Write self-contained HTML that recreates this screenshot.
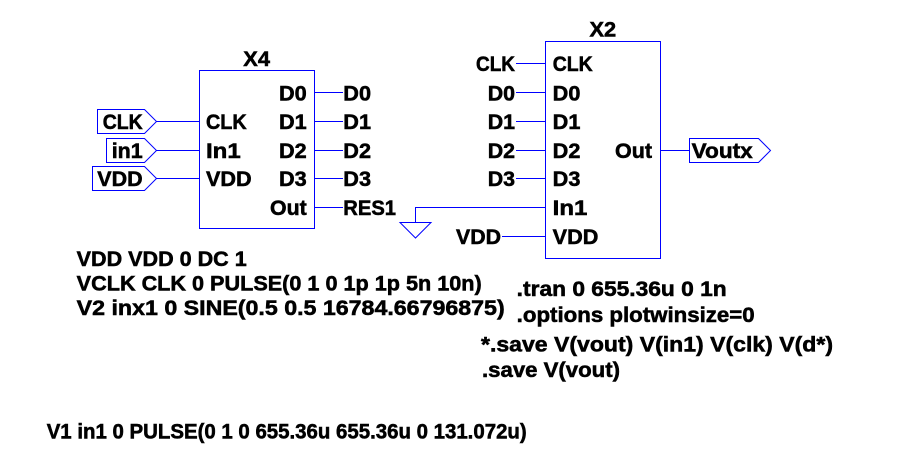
<!DOCTYPE html>
<html><head><meta charset="utf-8"><style>
html,body{margin:0;padding:0;background:#fff;}
svg{display:block;}
text{font-family:"Liberation Sans",Arial,sans-serif;font-weight:bold;font-size:21.5px;fill:#000;stroke:#000;stroke-width:0.55px;}
.w{stroke:#0000ff;stroke-width:1;fill:none;shape-rendering:crispEdges;}
.f{stroke:#0000ff;stroke-width:1;fill:none;}
</style></head><body>
<svg width="901" height="474" viewBox="0 0 901 474" xmlns="http://www.w3.org/2000/svg">
<rect x="0" y="0" width="901" height="474" fill="#fff"/>

<!-- X4 box -->
<rect class="w" x="199.5" y="70.5" width="115" height="158"/>
<line class="w" x1="156" y1="121.5" x2="200" y2="121.5"/>
<line class="w" x1="156" y1="150.5" x2="200" y2="150.5"/>
<line class="w" x1="156" y1="178.5" x2="200" y2="178.5"/>
<line class="w" x1="315" y1="92.5" x2="343" y2="92.5"/>
<line class="w" x1="315" y1="121.5" x2="343" y2="121.5"/>
<line class="w" x1="315" y1="150.5" x2="343" y2="150.5"/>
<line class="w" x1="315" y1="178.5" x2="343" y2="178.5"/>
<line class="w" x1="315" y1="207.5" x2="343" y2="207.5"/>

<!-- Flags -->
<polygon class="f" points="97.5,109.5 144.5,109.5 156.5,121.5 144.5,133.5 97.5,133.5"/>
<polygon class="f" points="106.5,138.5 144.5,138.5 156.5,150.5 144.5,162.5 106.5,162.5"/>
<polygon class="f" points="92.5,166.5 144.5,166.5 156.5,178.5 144.5,190.5 92.5,190.5"/>

<!-- X2 box -->
<rect class="w" x="545.5" y="41.5" width="115" height="217"/>
<line class="w" x1="516" y1="63.5" x2="546" y2="63.5"/>
<line class="w" x1="516" y1="92.5" x2="546" y2="92.5"/>
<line class="w" x1="516" y1="121.5" x2="546" y2="121.5"/>
<line class="w" x1="516" y1="150.5" x2="546" y2="150.5"/>
<line class="w" x1="516" y1="178.5" x2="546" y2="178.5"/>
<line class="w" x1="502" y1="236.5" x2="546" y2="236.5"/>
<polyline class="w" points="546,207.5 415.5,207.5 415.5,222.5"/>
<polygon class="f" points="400,222.5 431,222.5 415.5,238"/>
<line class="w" x1="661" y1="150.5" x2="689" y2="150.5"/>
<polygon class="f" points="689.5,138.5 758.5,138.5 770.5,150.5 758.5,162.5 689.5,162.5"/>

<!-- Labels X4 -->
<text x="243.3" y="66" textLength="26.7" lengthAdjust="spacingAndGlyphs">X4</text>
<text x="102.7" y="129" textLength="40" lengthAdjust="spacingAndGlyphs">CLK</text>
<text x="111.7" y="158" textLength="31" lengthAdjust="spacingAndGlyphs">in1</text>
<text x="97.3" y="186" textLength="45.3" lengthAdjust="spacingAndGlyphs">VDD</text>
<text x="206" y="129" textLength="40.7" lengthAdjust="spacingAndGlyphs">CLK</text>
<text x="206" y="158" textLength="34.7" lengthAdjust="spacingAndGlyphs">In1</text>
<text x="206" y="186" textLength="45.7" lengthAdjust="spacingAndGlyphs">VDD</text>
<text x="279" y="100.5" textLength="27.7" lengthAdjust="spacingAndGlyphs">D0</text>
<text x="279" y="129" textLength="27.7" lengthAdjust="spacingAndGlyphs">D1</text>
<text x="279" y="158" textLength="27.7" lengthAdjust="spacingAndGlyphs">D2</text>
<text x="279" y="186" textLength="27.7" lengthAdjust="spacingAndGlyphs">D3</text>
<text x="270" y="215" textLength="36.7" lengthAdjust="spacingAndGlyphs">Out</text>
<text x="343.3" y="100.5" textLength="27.7" lengthAdjust="spacingAndGlyphs">D0</text>
<text x="343.3" y="129" textLength="27.7" lengthAdjust="spacingAndGlyphs">D1</text>
<text x="343.3" y="158" textLength="27.7" lengthAdjust="spacingAndGlyphs">D2</text>
<text x="343.3" y="186" textLength="27.7" lengthAdjust="spacingAndGlyphs">D3</text>
<text x="343.3" y="215" textLength="52.7" lengthAdjust="spacingAndGlyphs">RES1</text>

<!-- Labels X2 -->
<text x="589.5" y="36.5" textLength="26.7" lengthAdjust="spacingAndGlyphs">X2</text>
<text x="476" y="71" textLength="39" lengthAdjust="spacingAndGlyphs">CLK</text>
<text x="487.7" y="100.5" textLength="27.3" lengthAdjust="spacingAndGlyphs">D0</text>
<text x="487.7" y="129" textLength="27.3" lengthAdjust="spacingAndGlyphs">D1</text>
<text x="487.7" y="158" textLength="27.3" lengthAdjust="spacingAndGlyphs">D2</text>
<text x="487.7" y="186" textLength="27.3" lengthAdjust="spacingAndGlyphs">D3</text>
<text x="456" y="244" textLength="45" lengthAdjust="spacingAndGlyphs">VDD</text>
<text x="552.7" y="71" textLength="40" lengthAdjust="spacingAndGlyphs">CLK</text>
<text x="552.7" y="100.5" textLength="27.7" lengthAdjust="spacingAndGlyphs">D0</text>
<text x="552.7" y="129" textLength="27.7" lengthAdjust="spacingAndGlyphs">D1</text>
<text x="552.7" y="158" textLength="27.7" lengthAdjust="spacingAndGlyphs">D2</text>
<text x="552.7" y="186" textLength="27.7" lengthAdjust="spacingAndGlyphs">D3</text>
<text x="552.7" y="215" textLength="34.7" lengthAdjust="spacingAndGlyphs">In1</text>
<text x="552.7" y="244" textLength="45.7" lengthAdjust="spacingAndGlyphs">VDD</text>
<text x="615" y="158" textLength="37" lengthAdjust="spacingAndGlyphs">Out</text>
<text x="691.7" y="158" textLength="61" lengthAdjust="spacingAndGlyphs">Voutx</text>

<!-- SPICE directives -->
<text x="76.7" y="266" textLength="170" lengthAdjust="spacingAndGlyphs">VDD VDD 0 DC 1</text>
<text x="76.7" y="290.5" textLength="405" lengthAdjust="spacingAndGlyphs">VCLK CLK 0 PULSE(0 1 0 1p 1p 5n 10n)</text>
<text x="76.7" y="315" textLength="428" lengthAdjust="spacingAndGlyphs">V2 inx1 0 SINE(0.5 0.5 16784.66796875)</text>
<text x="516.7" y="296" textLength="210" lengthAdjust="spacingAndGlyphs">.tran 0 655.36u 0 1n</text>
<text x="516.7" y="322" textLength="238" lengthAdjust="spacingAndGlyphs">.options plotwinsize=0</text>
<text x="481" y="351.5" textLength="352" lengthAdjust="spacingAndGlyphs">*.save V(vout) V(in1) V(clk) V(d*)</text>
<text x="482" y="377" textLength="138" lengthAdjust="spacingAndGlyphs">.save V(vout)</text>
<text x="46.7" y="438.5" textLength="480" lengthAdjust="spacingAndGlyphs">V1 in1 0 PULSE(0 1 0 655.36u 655.36u 0 131.072u)</text>
</svg>
</body></html>
